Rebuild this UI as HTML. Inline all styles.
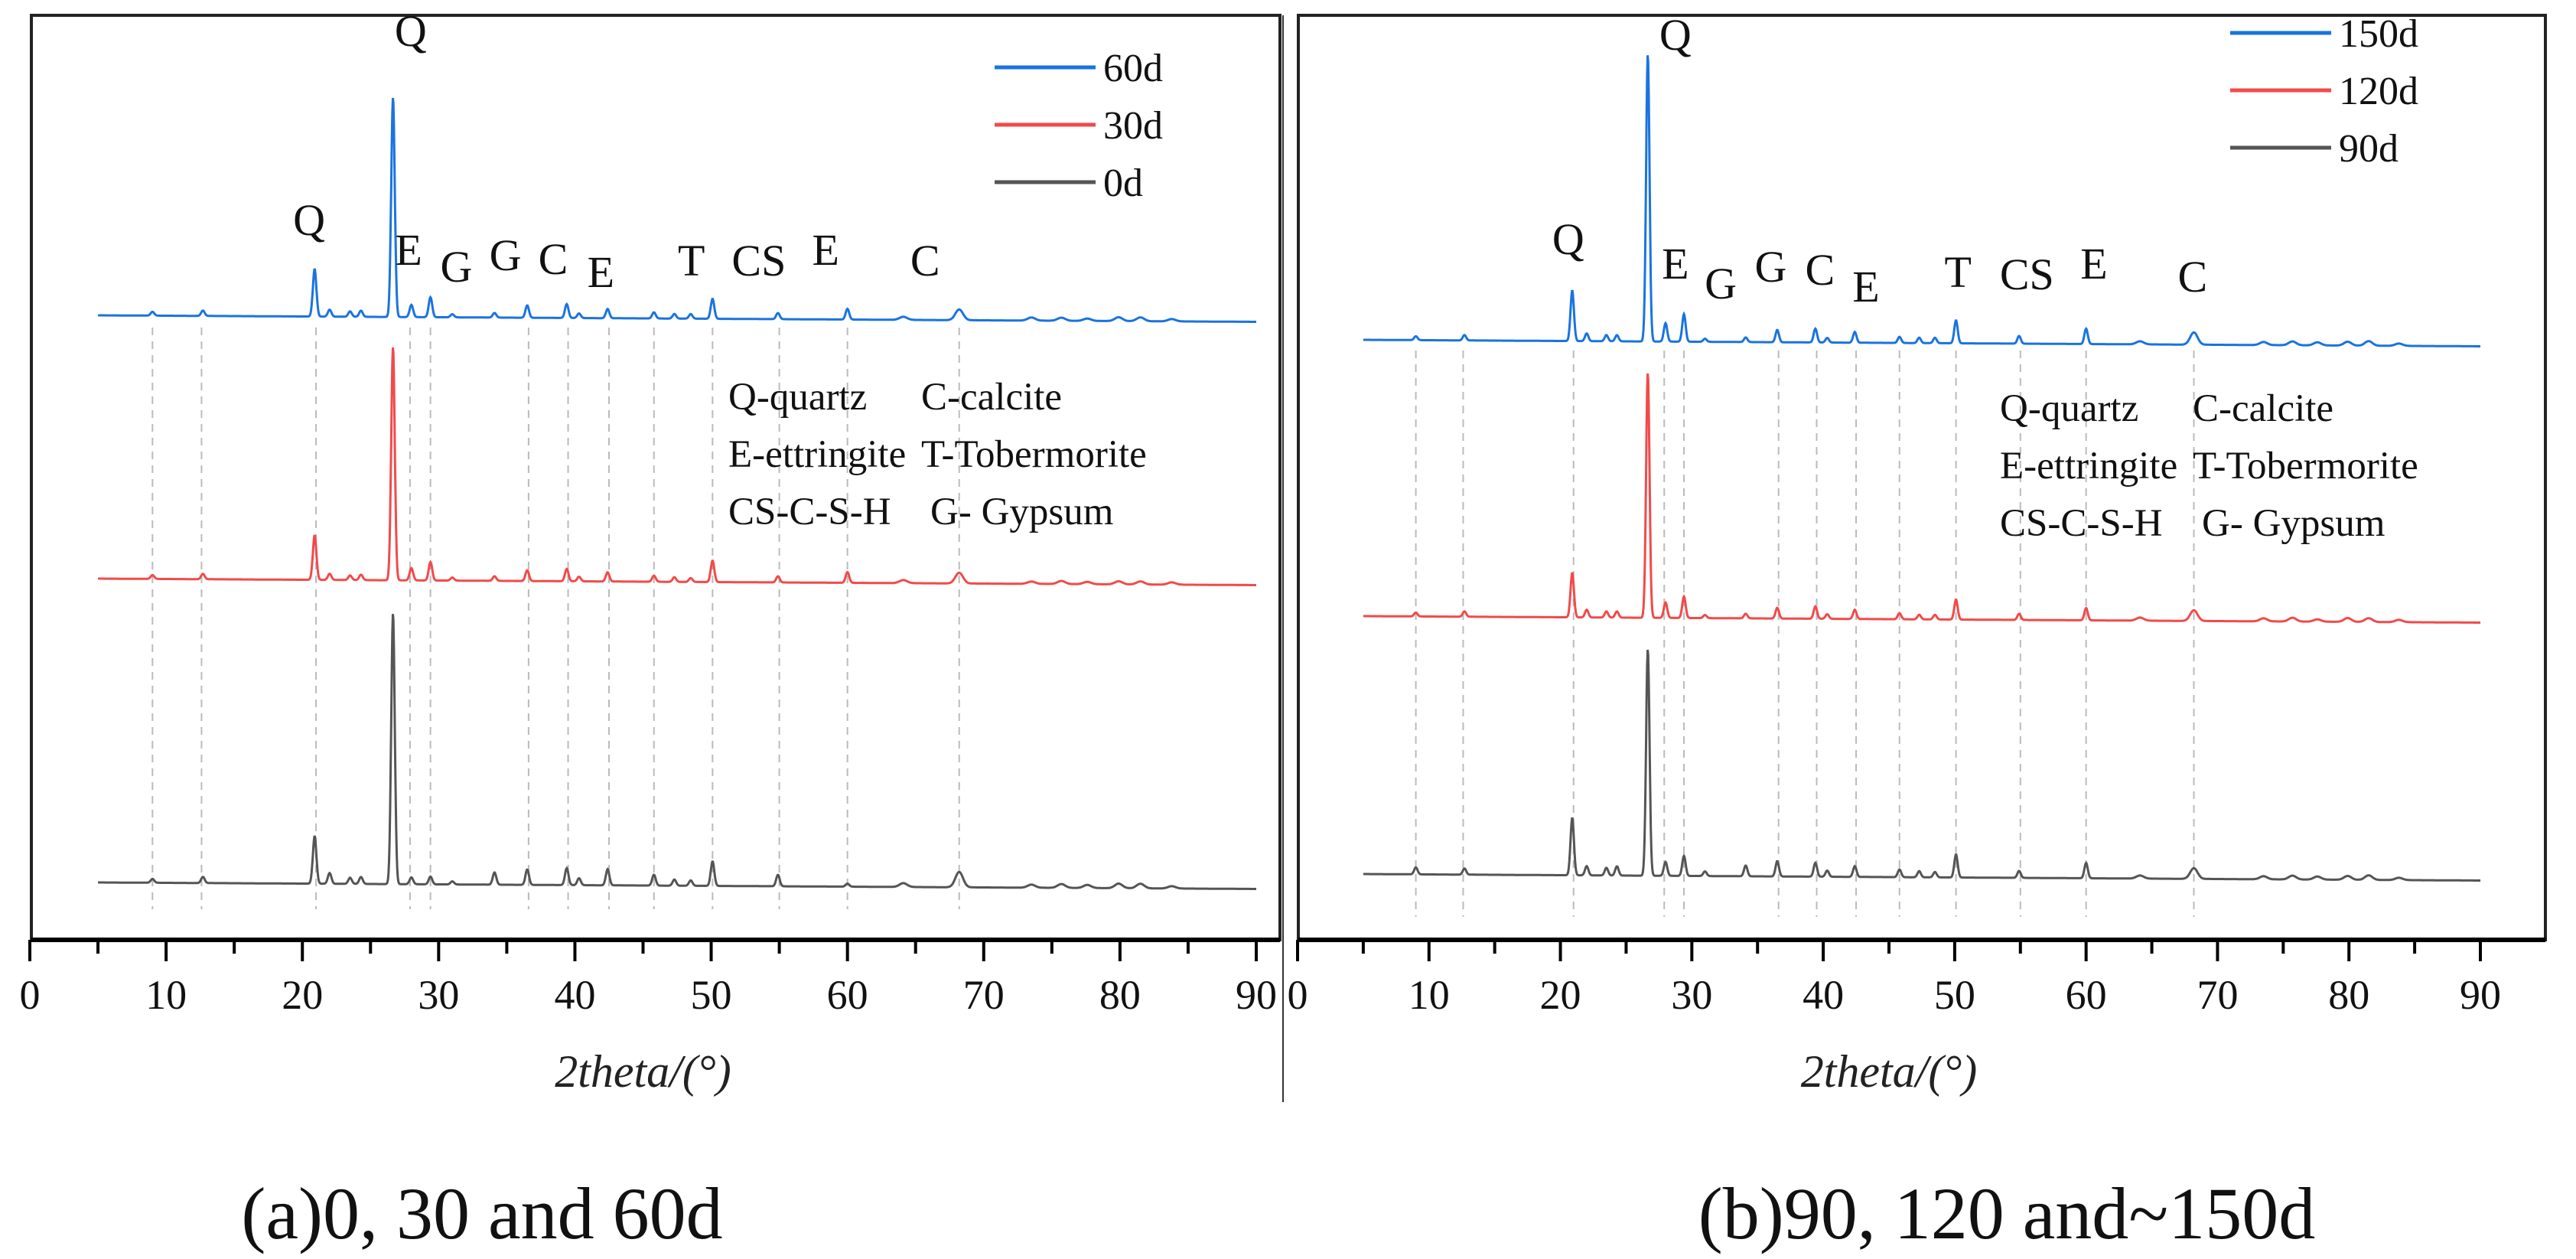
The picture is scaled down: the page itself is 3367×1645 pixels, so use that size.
<!DOCTYPE html>
<html><head><meta charset="utf-8"><style>
html,body{margin:0;padding:0;background:#fff;}
svg{display:block;font-family:"Liberation Serif",serif;}
</style></head><body>
<svg id="fig" width="3367" height="1645" viewBox="0 0 3367 1645" xmlns="http://www.w3.org/2000/svg">
</svg>
<script>
// ---- data ----
const peakPos = [9.0,12.7,20.9,22.0,23.5,24.3,26.65,28.0,29.4,31.0,34.1,36.5,39.4,40.3,42.4,45.8,47.3,48.5,50.1,54.9,60.0,64.1,68.2,73.5,75.7,77.6,79.9,81.5,83.8];
const h0d   = [5,8,62,14,8,9,354,9,10,4,16,20,22,9,21,14,8,7,32,15,4,5,20,4,5,4,6,6,3];
const h30d  = [5,7,58,8,6,7,305,16,24,4,6,14,16,6,12,8,6,5,28,8,14,4,14,3,4,3,4,4,3];
const h60d  = [5,7,62,9,7,8,287,16,26,4,6,16,18,6,12,8,6,6,26,8,14,4,14,4,4,3,5,5,3];
const h90d  = [9,8,75,12,10,12,296,18,26,6,14,20,18,8,14,10,8,7,30,9,20,4,14,4,5,4,5,6,3];
const h120d = [5,7,58,10,8,8,320,20,28,4,6,14,16,6,12,8,6,6,26,8,16,4,14,4,5,3,5,5,3];
const h150d = [5,7,66,10,8,8,375,24,36,4,6,16,18,6,14,8,7,7,30,10,20,4,16,4,5,4,5,6,3];
const base0d=75, base30d=472, base60d=816, base90d=86, base120d=423, base150d=784;
const xTicks = [0,10,20,30,40,50,60,70,80,90];
const dashPos = [9.0,12.6,21.0,27.9,29.4,36.6,39.5,42.5,45.8,50.1,55.0,60.0,68.2];
const labelsA = [["Q",20.5,287],["Q",27.95,40],["E",27.8,326],["G",31.3,348],["G",34.9,333],["C",38.4,338],["E",41.9,355],["T",48.55,340],["CS",53.5,340],["E",58.4,326],["C",65.7,340]];
const labelsB = [["Q",20.6,312],["Q",28.75,45],["E",28.75,344],["G",32.2,370],["G",36.0,348],["C",39.75,352],["E",43.25,374],["T",50.25,355],["CS",55.5,358],["E",60.6,344],["C",68.1,361]];

const NS="http://www.w3.org/2000/svg";
const svg=document.getElementById('fig');
function mk(tag,attrs,parent){const e=document.createElementNS(NS,tag);for(const k in attrs)e.setAttribute(k,attrs[k]);(parent||svg).appendChild(e);return e;}

function panel(o){
  const g=mk('g',{});
  
  
  const X=d=>o.x0+(d)*(o.x90-o.x0)/90;
  const Y=v=>o.yb-v;
  const fr=mk('rect',{x:o.fl,y:20,width:o.fr-o.fl,height:o.yb-20,fill:'none',stroke:'#222','stroke-width':4},g);
  
  
  mk('line',{x1:o.fl,x2:o.fr,y1:o.yb,y2:o.yb,stroke:'#000','stroke-width':6},g);
  dashPos.forEach(d=>{
    const l=mk('line',{x1:X(d),x2:X(d),y1:Y(o.dashTop),y2:Y(o.dashBot),stroke:'#bbb','stroke-width':2,'stroke-dasharray':'10,8'},g);
    
    
  });
  for(let t=0;t<=90;t+=5){
    const major=t%10===0;
    mk('line',{x1:X(t),x2:X(t),y1:o.yb,y2:o.yb+(major?28:18),stroke:'#000','stroke-width':4},g);
  }
  xTicks.forEach(t=>{
    const tx=mk('text',{x:X(t),y:o.yb+90,'font-size':54,'text-anchor':'middle',fill:'#111'},g);
    tx.textContent=t;
    
    
  });
  const at=mk('text',{x:(o.x0+o.x90)/2,y:o.yb+192,'font-size':60,'text-anchor':'middle','font-style':'italic',fill:'#222'},g);
  at.textContent='2theta/(°)';
  
  
  o.series.forEach(s=>{
    let d='';
    for(let t=5;t<=90.0001;t+=0.04){
      let v=s.base - (t-5)*0.1;
      for(let i=0;i<peakPos.length;i++){
        const w=peakPos[i]>60?0.28:0.13;
        const z=(t-peakPos[i])/w;
        v+=s.h[i]*Math.exp(-z*z/2);
      }
      d+=(d?'L':'M')+X(t).toFixed(1)+','+Y(v).toFixed(1);
    }
    const p=mk('path',{d:d,fill:'none',stroke:s.color,'stroke-width':3},g);
    
    
  });
  o.series.slice().reverse().forEach((s,i)=>{
    const yy=o.legY+i*75;
    const l=mk('line',{x1:o.legX,x2:o.legX+132,y1:yy,y2:yy,stroke:s.color,'stroke-width':5},g);
    
    
    const t=mk('text',{x:o.legX+142,y:yy+18,'font-size':52,fill:'#111'},g);
    t.textContent=s.label;
    
    
  });
  o.labels.forEach(l=>{
    const t=mk('text',{x:X(l[1]),y:l[2]+20,'font-size':58,'text-anchor':'middle',fill:'#111'},g);
    t.textContent=l[0];
    
    
  });
  const rows=[["Q-quartz","C-calcite"],["E-ettringite","T-Tobermorite"],["CS-C-S-H","G- Gypsum"]];
  rows.forEach((r,i)=>{
    const a=mk('text',{x:o.keyX,y:o.keyY+i*75,'font-size':51,fill:'#111'},g);a.textContent=r[0];
    
    
    const b=mk('text',{x:o.keyX+(i===2?264:252),y:o.keyY+i*75,'font-size':51,fill:'#111'},g);b.textContent=r[1];
    
    
  });
  const c=mk('text',{x:o.capX,y:1618,'font-size':96,'text-anchor':'middle',fill:'#111'},g);
  c.textContent=o.caption;
  
  
}

panel({name:'panel-a',fl:41,fr:1673,x0:39,x90:1642,yb:1228,dashTop:800,dashBot:40,
  legX:1300,legY:88,keyX:952,keyY:535,capX:630,caption:'(a)0, 30 and 60d',labels:labelsA,
  series:[{label:'0d',color:'#555',h:h0d,base:base0d},{label:'30d',color:'#f24a4a',h:h30d,base:base30d},{label:'60d',color:'#1a73e0',h:h60d,base:base60d}]});
panel({name:'panel-b',fl:1697,fr:3327,x0:1696,x90:3242,yb:1228,dashTop:770,dashBot:30,
  legX:2915,legY:43,keyX:2614,keyY:550,capX:2623,caption:'(b)90, 120 and~150d',labels:labelsB,
  series:[{label:'90d',color:'#555',h:h90d,base:base90d},{label:'120d',color:'#f24a4a',h:h120d,base:base120d},{label:'150d',color:'#1a73e0',h:h150d,base:base150d}]});
const dv=mk('line',{x1:1677,x2:1677,y1:20,y2:1440,stroke:'#333','stroke-width':2});


</script>
</body></html>
